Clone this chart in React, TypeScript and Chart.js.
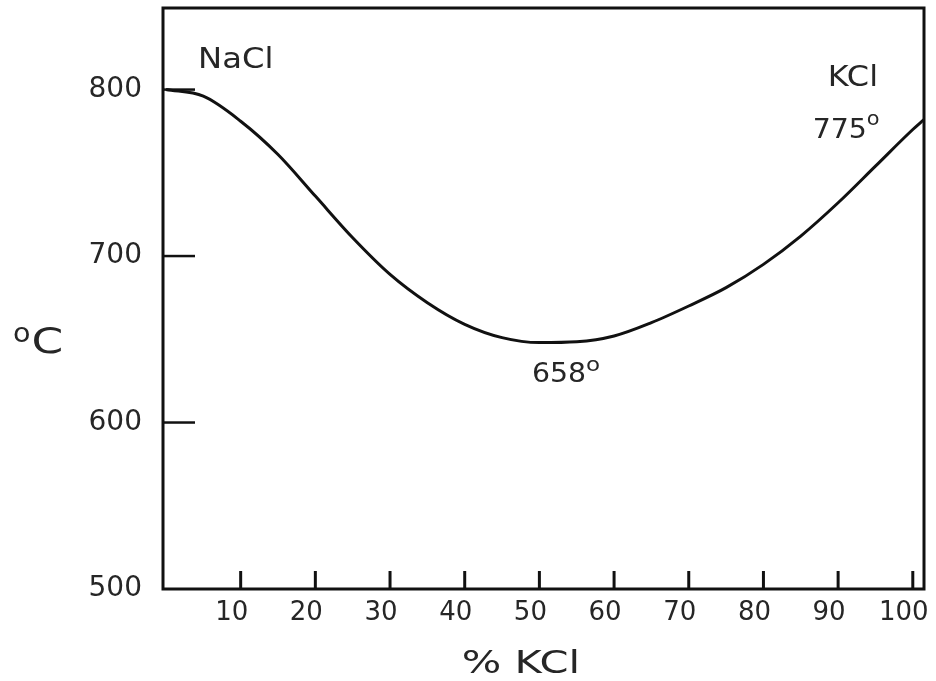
import React, { useEffect, useRef } from "react";
import { Chart, registerables } from "chart.js";

Chart.register(...registerables);

// % KCl (x) and liquidus temperature in °C (y)
const compositionKCl = [0, 5, 10, 15, 20, 25, 30, 35, 40, 45, 50, 55, 60, 65, 70, 75, 80, 85, 90, 95, 100, 101.5];
const meltingTemp = [800, 796, 781, 761, 736, 711, 689, 672, 659, 651, 648, 648.5, 652, 660, 670, 681, 695, 712, 732, 754, 776, 782];

const xTickValues = [10, 20, 30, 40, 50, 60, 70, 80, 90, 100];
const yTickValues = [500, 600, 700, 800];
const yTickMarks = [600, 700, 800];

const FONT = '"DejaVu Sans", "Liberation Sans", sans-serif';
const INK = "#262626";

function drawText(ctx: CanvasRenderingContext2D, text: string, px: number, py: number, size: number, sx: number): number {
  ctx.save();
  ctx.translate(px, py);
  ctx.scale(sx, 1);
  ctx.font = `${size}px ${FONT}`;
  ctx.textAlign = "left";
  ctx.textBaseline = "alphabetic";
  ctx.fillStyle = INK;
  ctx.fillText(text, 0, 0);
  const w = ctx.measureText(text).width * sx;
  ctx.restore();
  return w;
}

function zeroPadding(scale: any) {
  scale.paddingTop = 0;
  scale.paddingBottom = 0;
  scale.paddingLeft = 0;
  scale.paddingRight = 0;
}

const framePlugin = {
  id: "frameAndNotes",
  afterDraw(chart: any) {
    const { ctx, chartArea: a, scales } = chart;
    const x = scales.x;
    const y = scales.y;
    ctx.save();
    ctx.strokeStyle = "#111";
    ctx.lineWidth = 3;
    ctx.strokeRect(a.left, a.top, a.right - a.left, a.bottom - a.top);

    // inward tick marks
    ctx.lineWidth = 3;
    xTickValues.forEach((v) => {
      const px = x.getPixelForValue(v);
      ctx.beginPath();
      ctx.moveTo(px, a.bottom);
      ctx.lineTo(px, a.bottom - 18);
      ctx.stroke();
    });
    ctx.lineWidth = 2.5;
    yTickMarks.forEach((v) => {
      const py = y.getPixelForValue(v);
      ctx.beginPath();
      ctx.moveTo(a.left, py);
      ctx.lineTo(a.left + 32, py);
      ctx.stroke();
    });

    // annotations
    drawText(ctx, "NaCl", x.getPixelForValue(4.3), y.getPixelForValue(813), 28, 1.15);
    drawText(ctx, "KCl", x.getPixelForValue(88.6), y.getPixelForValue(802), 28, 1.14);
    let w = drawText(ctx, "775", x.getPixelForValue(86.6), y.getPixelForValue(771.2), 27, 1.05);
    drawText(ctx, "o", x.getPixelForValue(86.6) + w, y.getPixelForValue(771.2) - 13, 19, 1.1);
    w = drawText(ctx, "658", x.getPixelForValue(49.0), y.getPixelForValue(624.5), 27, 1.05);
    drawText(ctx, "o", x.getPixelForValue(49.0) + w, y.getPixelForValue(624.5) - 11, 20, 1.15);

    // axis titles
    const cBase = y.getPixelForValue(650) + 14;
    const ow = drawText(ctx, "o", 13, cBase - 11, 26, 1.1);
    drawText(ctx, "C", 13 + ow + 1, cBase, 35, 1.3);
    drawText(ctx, "% KCl", x.getPixelForValue(39.6), a.bottom + 84, 32, 1.3);

    ctx.restore();
  },
};

export default function App() {
  const canvasRef = useRef<HTMLCanvasElement | null>(null);

  useEffect(() => {
    if (!canvasRef.current) return;
    const chart = new Chart(canvasRef.current, {
      type: "line",
      data: {
        datasets: [
          {
            data: compositionKCl.map((c, i) => ({ x: c, y: meltingTemp[i] })),
            borderColor: "#111",
            borderWidth: 3,
            pointRadius: 0,
            fill: false,
            cubicInterpolationMode: "monotone",
          },
        ],
      },
      options: {
        responsive: false,
        animation: false,
        devicePixelRatio: 1,
        layout: { autoPadding: false, padding: { left: 0, right: 12, top: 8, bottom: 0 } },
        plugins: { legend: { display: false }, tooltip: { enabled: false } },
        scales: {
          x: {
            type: "linear",
            min: -0.4,
            max: 101.5,
            afterBuildTicks: (scale: any) => {
              scale.ticks = xTickValues.map((value) => ({ value }));
            },
            afterFit: (scale: any) => {
              scale.height = 92;
              zeroPadding(scale);
            },
            grid: { display: false, drawTicks: false },
            border: { display: false },
            ticks: {
              font: { family: FONT, size: 26 },
              color: INK,
              padding: 9,
              labelOffset: -9,
              maxRotation: 0,
              autoSkip: false,
              callback: (v: any) => String(v),
            },
          },
          y: {
            type: "linear",
            min: 500,
            max: 849,
            afterBuildTicks: (scale: any) => {
              scale.ticks = yTickValues.map((value) => ({ value }));
            },
            afterFit: (scale: any) => {
              scale.width = 163;
              zeroPadding(scale);
            },
            grid: { display: false, drawTicks: false },
            border: { display: false },
            ticks: {
              font: { family: FONT, size: 28 },
              color: INK,
              padding: 21,
              autoSkip: false,
              callback: (v: any) => String(v),
            },
          },
        },
      },
      plugins: [framePlugin],
    } as any);
    return () => chart.destroy();
  }, []);

  return (
    <div style={{ position: "fixed", left: 0, top: 0, width: 936, height: 681, background: "#fff" }}>
      <canvas ref={canvasRef} width={936} height={681} style={{ width: 936, height: 681, display: "block" }} />
    </div>
  );
}
